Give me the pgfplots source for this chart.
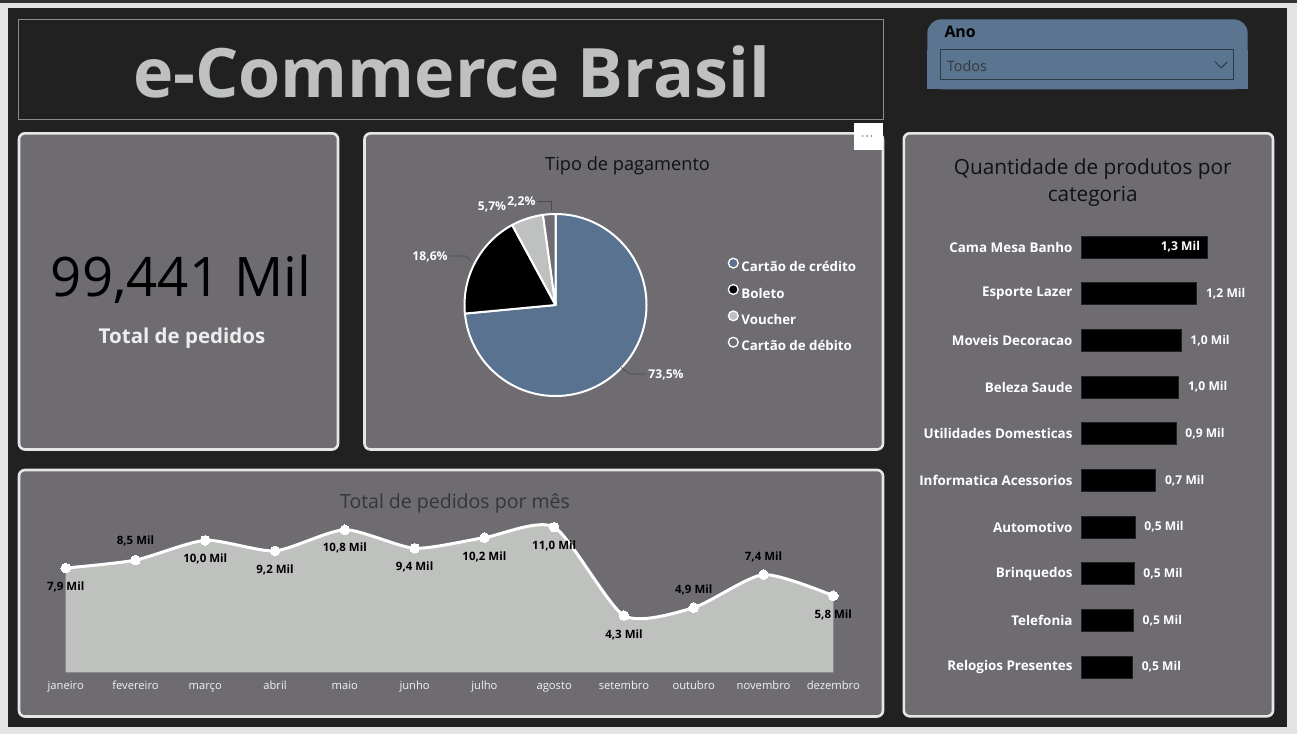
\documentclass[border=0pt]{standalone}
\usepackage{fontspec}
\setmainfont{Open Sans}
\usepackage{pgfplots}
\usepackage{pgfplotstable}
\pgfplotsset{compat=1.18}

\definecolor{outergray}{HTML}{E3E3E3}
\definecolor{topstrip}{HTML}{333333}
\definecolor{bgdark}{HTML}{212121}
\definecolor{cardfill}{HTML}{6E6C71}
\definecolor{cardborder}{HTML}{E6E6E6}
\definecolor{titletext}{HTML}{BFC1C0}
\definecolor{titlebox}{HTML}{8C8C8C}
\definecolor{slicer}{HTML}{5B7490}
\definecolor{dropborder}{HTML}{2D3A48}
\definecolor{todostext}{HTML}{333840}
\definecolor{pieblue}{HTML}{587290}
\definecolor{voucher}{HTML}{BFC1C0}
\definecolor{areagray}{HTML}{BFC1BF}
\definecolor{leader}{HTML}{4A4A4E}
\definecolor{darktitle}{HTML}{111111}
\definecolor{midtitle}{HTML}{363636}
\definecolor{monthtext}{HTML}{F2F2F2}

\pgfplotstableread[col sep=semicolon]{
x;y;lab;dy
0;7.9;7,9 Mil;-19
1;8.5;8,5 Mil;19
2;10.0;10,0 Mil;-18.6
3;9.2;9,2 Mil;-19
4;10.8;10,8 Mil;-18.4
5;9.4;9,4 Mil;-18.7
6;10.2;10,2 Mil;-19.3
7;11.0;11,0 Mil;-18.7
8;4.3;4,3 Mil;-19
9;4.9;4,9 Mil;18
10;7.4;7,4 Mil;18
11;5.8;5,8 Mil;-19.3
}\monthdata

\pgfplotstableread[col sep=semicolon]{
idx;cat;val;lab;dx
0;Cama Mesa Banho;1.300;1,3 Mil;-47
1;Esporte Lazer;1.189;1,2 Mil;9
2;Moveis Decoracao;1.027;1,0 Mil;9
3;Beleza Saude;1.003;1,0 Mil;9
4;Utilidades Domesticas;0.975;0,9 Mil;9
5;Informatica Acessorios;0.765;0,7 Mil;9
6;Automotivo;0.551;0,5 Mil;9
7;Brinquedos;0.541;0,5 Mil;9
8;Telefonia;0.534;0,5 Mil;9
9;Relogios Presentes;0.524;0,5 Mil;9
}\bardata

\pgfplotstableread[col sep=semicolon]{
tipo;pct
Cartão de crédito;73.5
Boleto;18.6
Voucher;5.7
Cartão de débito;2.2
}\piedata

\begin{document}
\begin{tikzpicture}[x=1pt,y=1pt]
% ---------- page background ----------
\fill[outergray] (0,0) rectangle (1297,-734);
\fill[topstrip] (0,0) rectangle (1297,-2.7);
\fill[bgdark] (8,-8) rectangle (1287,-727);

% ---------- title ----------
\draw[titlebox, line width=1pt] (18.3,-19.3) rectangle (883.5,-119.3);
\node[anchor=base, text=titletext, font=\bfseries\fontsize{68.2}{80}\selectfont, inner sep=0pt] at (451.5,-97.5) {e-Commerce Brasil};

% ---------- slicer ----------
\fill[slicer, rounded corners=14pt] (927.3,-89.3) rectangle (1247.7,-19.3);
\fill[slicer] (927.3,-89.3) rectangle (1247.7,-50);
\node[anchor=base west, inner sep=0pt, font=\bfseries\fontsize{15.9}{18}\selectfont, text=black] at (944.3,-37.5) {Ano};
\draw[dropborder, line width=1pt] (940.3,-49.3) rectangle (1233.3,-79.3);
\node[anchor=base west, inner sep=0pt, font=\fontsize{14.4}{17}\selectfont, text=todostext] at (946.7,-71.7) {Todos};
\draw[dropborder, line width=0.9pt] (1215,-61.7) -- (1221.2,-67.9) -- (1227.4,-61.7);

% ---------- cards ----------
\draw[cardborder, line width=2.6pt, fill=cardfill, rounded corners=6pt] (19,-133.3) rectangle (338,-449.5);
\draw[cardborder, line width=2.6pt, fill=cardfill, rounded corners=6pt] (364.5,-133.3) rectangle (883,-449.5);
\draw[cardborder, line width=2.6pt, fill=cardfill, rounded corners=6pt] (903.8,-133.3) rectangle (1273,-716.3);
\draw[cardborder, line width=2.6pt, fill=cardfill, rounded corners=6pt] (19,-470) rectangle (883,-716.5);

% ---------- KPI ----------
\node[anchor=base, inner sep=0pt, font=\fontsize{54.5}{62}\selectfont, text=black] at (181,-296) {99,441 Mil};
\node[anchor=base, inner sep=0pt, font=\bfseries\fontsize{20.5}{24}\selectfont, text=white!93!black] at (182,-343) {Total de pedidos};

% ---------- pie card ----------
\fill[white] (853.5,-122.5) rectangle (883,-150);
\foreach \dx in {862.7,867.1,871.5} \fill[gray] (\dx,-136) circle[radius=0.9];
\node[anchor=base, inner sep=0pt, font=\fontsize{18.2}{22}\selectfont, text=darktitle] at (627.6,-170) {Tipo de pagamento};

\pgfplotstablegetelem{0}{pct}\of\piedata \let\pA\pgfplotsretval
\pgfplotstablegetelem{1}{pct}\of\piedata \let\pB\pgfplotsretval
\pgfplotstablegetelem{2}{pct}\of\piedata \let\pC\pgfplotsretval
\pgfplotstablegetelem{3}{pct}\of\piedata \let\pD\pgfplotsretval
\pgfmathsetmacro\aA{90-3.6*\pA}
\pgfmathsetmacro\aB{\aA-3.6*\pB}
\pgfmathsetmacro\aC{\aB-3.6*\pC}
\pgfmathsetmacro\aD{\aC-3.6*\pD}

\begin{axis}[at={(464.5pt,-396pt)}, anchor=south west, scale only axis,
  width=182pt, height=182pt, xmin=-1, xmax=1, ymin=-1, ymax=1,
  hide axis, clip=false,
  legend style={at={(1.4464,0.5)}, anchor=west, draw=none, fill=none,
    inner sep=0pt, outer sep=0pt, row sep=10.6pt, column sep=2.6pt,
    font=\bfseries\fontsize{13.3}{15}\selectfont, text=white,
    nodes={inner sep=0pt}},
  legend cell align=left,
  legend image code/.code={\draw[#1] (0pt,4.4pt) circle[radius=4.9pt];}]
\addlegendimage{fill=pieblue, draw=white, line width=1.3pt}
\addlegendimage{fill=black, draw=white, line width=1.3pt}
\addlegendimage{fill=voucher, draw=white, line width=1.3pt}
\addlegendimage{fill=cardfill, draw=white, line width=1.3pt}
\legend{Cartão de crédito, Boleto, Voucher, Cartão de débito}
\filldraw[fill=pieblue, draw=white, line width=2pt, line join=round] (axis cs:0,0) -- ++(90:91pt) arc[start angle=90, end angle=\aA, radius=91pt] -- cycle;
\filldraw[fill=black, draw=white, line width=2pt, line join=round] (axis cs:0,0) -- ++(\aA:91pt) arc[start angle=\aA, end angle=\aB, radius=91pt] -- cycle;
\filldraw[fill=voucher, draw=white, line width=2pt, line join=round] (axis cs:0,0) -- ++(\aB:91pt) arc[start angle=\aB, end angle=\aC, radius=91pt] -- cycle;
\filldraw[fill=cardfill, draw=white, line width=2pt, line join=round] (axis cs:0,0) -- ++(\aC:91pt) arc[start angle=\aC, end angle=\aD, radius=91pt] -- cycle;
\end{axis}

% pie leaders and labels
\draw[leader, line width=0.7pt] (621,-367.5) -- (630,-374) -- (646,-374);
\draw[leader, line width=0.7pt] (449,-256) -- (466,-256) -- (471,-261);
\draw[leader, line width=0.7pt] (536.5,-201) -- (551.5,-201) -- (551.5,-211);
\begin{scope}[every node/.style={inner sep=0pt, font=\bfseries\fontsize{12.1}{14}\selectfont, text=white}]
\node at (666,-374.5) {73,5\%};
\node at (430,-256.5) {18,6\%};
\node at (492,-206.5) {5,7\%};
\node at (521.4,-201.8) {2,2\%};
\end{scope}

% ---------- bar card ----------
\node[anchor=base, inner sep=0pt, font=\fontsize{20.8}{24}\selectfont, text=darktitle] at (1092.7,-174.3) {Quantidade de produtos por};
\node[anchor=base, inner sep=0pt, font=\fontsize{20.8}{24}\selectfont, text=darktitle] at (1092.7,-201.7) {categoria};

\begin{axis}[at={(1081.7pt,-223.7pt)}, anchor=north west, scale only axis,
  width=145pt, height=466.7pt, xbar, xmin=0, xmax=1.5, ymin=-0.5, ymax=9.5,
  y dir=reverse, bar width=22pt, clip=false,
  axis line style={draw=none}, major tick length=0pt, xtick=\empty,
  ytick={0,...,9}, yticklabels from table={\bardata}{cat},
  yticklabel style={anchor=east, inner sep=0pt, xshift=-9pt, text=white,
    font=\bfseries\fontsize{13.4}{16}\selectfont},
  point meta=explicit symbolic,
  nodes near coords,
  visualization depends on={\thisrow{dx} \as \dxv},
  every node near coord/.append style={anchor=west, inner sep=0pt, xshift=\dxv pt,
    text=white, font=\bfseries\fontsize{12.1}{14}\selectfont}]
\addplot[fill=black, draw=black!75!gray, line width=0.8pt] table[x=val, y=idx, meta=lab] {\bardata};
\end{axis}

% ---------- line card ----------
\node[anchor=base, inner sep=0pt, font=\fontsize{19.5}{23}\selectfont, text=midtitle] at (455,-508.3) {Total de pedidos por mês};

\begin{axis}[at={(65.7pt,-672.3pt)}, anchor=south west, scale only axis,
  width=767.6pt, height=158.4pt, xmin=0, xmax=11, ymin=0, ymax=12, clip=false,
  axis line style={draw=none}, major tick length=0pt, ytick=\empty,
  xtick={0,...,11},
  xticklabels={janeiro,fevereiro,março,abril,maio,junho,julho,agosto,setembro,outubro,novembro,dezembro},
  xticklabel style={anchor=base, yshift=-16.7pt, text=monthtext, font=\fontsize{11.2}{13}\selectfont}]
\addplot[fill=areagray, draw=none, smooth, tension=0.4] table[x=x, y=y] {\monthdata} \closedcycle;
\addplot[white, line width=3pt, smooth, tension=0.4, mark=*, mark size=4.8pt,
  mark options={fill=white, draw=white, line width=0pt},
  point meta=explicit symbolic, nodes near coords,
  visualization depends on={\thisrow{dy} \as \dyv},
  every node near coord/.append style={anchor=center, inner sep=0pt, yshift=\dyv pt,
    text=black, font=\bfseries\fontsize{11.5}{14}\selectfont}]
  table[x=x, y=y, meta=lab] {\monthdata};
\end{axis}

\pgfresetboundingbox
\useasboundingbox (0,0) rectangle (1297,-734);
\end{tikzpicture}
\end{document}
